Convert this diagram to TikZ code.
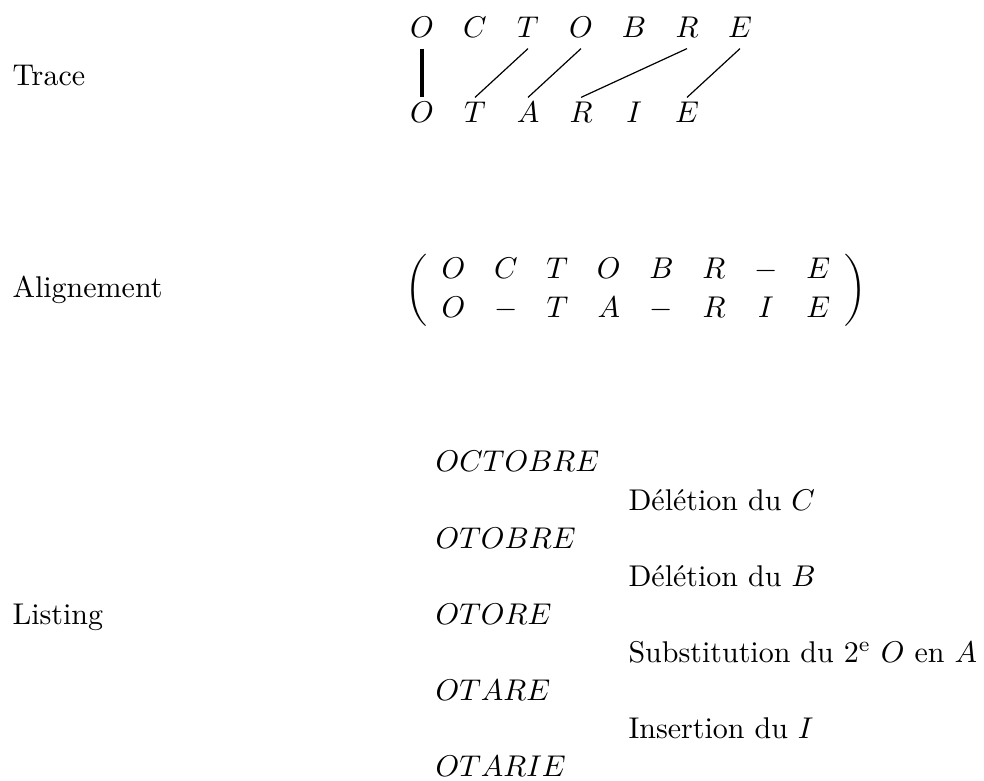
\documentclass[tikz,border=0pt]{standalone}
\usepackage{amsmath,amssymb}
\usepackage{tikz}
\usetikzlibrary{positioning}

\begin{document}
\begin{tikzpicture}[scale=1.0,
    lettre/.style={anchor=base},
    titre/.style={anchor=base west,inner sep=0pt}]
  \useasboundingbox (0,0) rectangle (11.53,-9.14);
  % trace
  \node[titre] (trace) at (0.14,-0.996) {Trace};
  \foreach \l [count=\i from 0] in {O,C,T,O,B,R,E}
    \node[lettre] (h\i) at (4.945+0.621*\i,-0.445) {$\l$};
  \foreach \l [count=\i from 0] in {O,T,A,R,I,E}
    \node[lettre,inner sep=1.5pt] (b\i) at (4.945+0.621*\i,-1.441) {$\l$};
  \draw[very thick] (h0.south) -- (b0.north);
  \foreach \a/\b in {2/1,3/2,5/3,6/5}
    \draw (h\a.south) -- (b\b.north);
  % alignement
  \node[titre] (align) at (0.14,-3.48) {Alignement};
  \node (matrice) at (7.452,-3.398)
    {$\def\arraystretch{1.1}\arraycolsep=4.8pt\left(\begin{array}{cccccccc}
      O & C & T & O & B & R & - & E\\
      O & - & T & A & - & R & I & E
    \end{array}\right)$};
  % listing
  \node[titre] (listing) at (0.14,-7.323) {Listing};
  \foreach \w [count=\i from 0] in {OCTOBRE,OTOBRE,OTORE,OTARE,OTARIE}
    \node[titre] (m\i) at (5.097,-5.530-0.893*\i) {$\w$};
  \foreach \t [count=\i from 0] in {{D\'el\'etion du $C$},{D\'el\'etion du $B$},
      {Substitution du 2\textsuperscript{e} $O$ en $A$},{Insertion du $I$}}
    \node[titre] (e\i) at (7.358,-5.977-0.893*\i) {\t};
\end{tikzpicture}
\end{document}
